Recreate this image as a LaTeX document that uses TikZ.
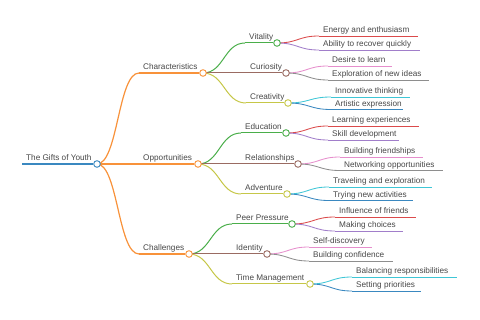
\documentclass[tikz,border=0pt]{standalone}
\usepackage{fontspec}
\setmainfont{Liberation Sans}
\usepackage{xcolor}
\usetikzlibrary{calc}
\usetikzlibrary{backgrounds}

\definecolor{cblue}{HTML}{3A88C0}
\definecolor{corange}{HTML}{F8923A}
\definecolor{cgreen}{HTML}{4AAE4A}
\definecolor{cred}{HTML}{DB4A4B}
\definecolor{cpurple}{HTML}{A17ECA}
\definecolor{cbrown}{HTML}{9A6B62}
\definecolor{cpink}{HTML}{E68ECC}
\definecolor{cgray}{HTML}{8E8E8E}
\definecolor{colive}{HTML}{C6C748}
\definecolor{ccyan}{HTML}{3EC6D6}
\definecolor{ctext}{HTML}{474747}

% curved link from a parent dot to the start of a child line
\newcommand{\mmlink}[3]{%
  \draw[#3] let \p1=(#1.center), \p2=(#2.center) in
  (\p1) .. controls ({(\x1+\x2)/2},\y1) and ({(\x1+\x2)/2},\y2) .. (\p2);}

\begin{document}
\begin{tikzpicture}[x=1pt,y=-1pt,
  txt/.style={anchor=base west, inner sep=0pt, text=ctext,
    font=\fontsize{8.2}{10}\selectfont},
  dot/.style={circle, draw=#1, fill=white, line width=0.9pt,
    minimum size=6.6pt, inner sep=0pt},
  lone/.style={draw=#1, line width=1.6pt},
  ltwo/.style={draw=#1, line width=1.2pt},
  lthree/.style={draw=#1, line width=1pt},
  lfour/.style={draw=#1, line width=0.85pt}]
\useasboundingbox (0,0) rectangle (480,320);
% root
\coordinate (root-l) at (22,164);
\node[dot=cblue] (root) at (97,164) {};
\node[txt] (root-t) at (26,161) {The Gifts of Youth};
% first level
\coordinate (char-l) at (139,73);
\node[dot=corange] (char) at (203,73) {};
\node[txt] (char-t) at (143,70) {Characteristics};
\coordinate (opp-l) at (139,164);
\node[dot=corange] (opp) at (198,164) {};
\node[txt] (opp-t) at (143,161) {Opportunities};
\coordinate (chal-l) at (139,254);
\node[dot=corange] (chal) at (189,254) {};
\node[txt] (chal-t) at (143,251) {Challenges};
% second level
\coordinate (vit-l) at (245,43);
\node[dot=cgreen] (vit) at (277,43) {};
\node[txt] (vit-t) at (249,40) {Vitality};
\coordinate (cur-l) at (246,73);
\node[dot=cbrown] (cur) at (286,73) {};
\node[txt] (cur-t) at (250,70) {Curiosity};
\coordinate (cre-l) at (246,103);
\node[dot=colive] (cre) at (288,103) {};
\node[txt] (cre-t) at (250,100) {Creativity};
\coordinate (edu-l) at (241,133);
\node[dot=cgreen] (edu) at (286,133) {};
\node[txt] (edu-t) at (245,130) {Education};
\coordinate (rel-l) at (241,164);
\node[dot=cbrown] (rel) at (298,164) {};
\node[txt] (rel-t) at (245,161) {Relationships};
\coordinate (adv-l) at (241,194);
\node[dot=colive] (adv) at (287,194) {};
\node[txt] (adv-t) at (245,191) {Adventure};
\coordinate (peer-l) at (232,224);
\node[dot=cgreen] (peer) at (292,224) {};
\node[txt] (peer-t) at (236,221) {Peer Pressure};
\coordinate (iden-l) at (232,254);
\node[dot=cbrown] (iden) at (267,254) {};
\node[txt] (iden-t) at (236,251) {Identity};
\coordinate (time-l) at (232,284);
\node[dot=colive] (time) at (310,284) {};
\node[txt] (time-t) at (236,281) {Time Management};
% leaves
\coordinate (energy-l) at (319,36); \coordinate (energy-r) at (418,36);
\node[txt] (energy) at (323,33) {Energy and enthusiasm};
\coordinate (ability-l) at (319,50); \coordinate (ability-r) at (420,50);
\node[txt] (ability) at (323,47) {Ability to recover quickly};
\coordinate (desire-l) at (328,66); \coordinate (desire-r) at (392,66);
\node[txt] (desire) at (332,63) {Desire to learn};
\coordinate (explo-l) at (328,80); \coordinate (explo-r) at (429,80);
\node[txt] (explo) at (332,77) {Exploration of new ideas};
\coordinate (innov-l) at (331,97); \coordinate (innov-r) at (410,97);
\node[txt] (innov) at (335,94) {Innovative thinking};
\coordinate (artist-l) at (331,109.5); \coordinate (artist-r) at (403,109.5);
\node[txt] (artist) at (335,106.5) {Artistic expression};
\coordinate (learn-l) at (328,126); \coordinate (learn-r) at (419,126);
\node[txt] (learn) at (332,123) {Learning experiences};
\coordinate (skill-l) at (328,140); \coordinate (skill-r) at (399,140);
\node[txt] (skill) at (332,137) {Skill development};
\coordinate (friend-l) at (340,157); \coordinate (friend-r) at (423,157);
\node[txt] (friend) at (344,154) {Building friendships};
\coordinate (network-l) at (340,170.5); \coordinate (network-r) at (443,170.5);
\node[txt] (network) at (344,167.5) {Networking opportunities};
\coordinate (travel-l) at (329,187); \coordinate (travel-r) at (432,187);
\node[txt] (travel) at (333,184) {Traveling and exploration};
\coordinate (trying-l) at (329,200.5); \coordinate (trying-r) at (413,200.5);
\node[txt] (trying) at (333,197.5) {Trying new activities};
\coordinate (influ-l) at (335,217); \coordinate (influ-r) at (416,217);
\node[txt] (influ) at (339,214) {Influence of friends};
\coordinate (choice-l) at (335,231); \coordinate (choice-r) at (403,231);
\node[txt] (choice) at (339,228) {Making choices};
\coordinate (selfd-l) at (309,247); \coordinate (selfd-r) at (372,247);
\node[txt] (selfd) at (313,244) {Self-discovery};
\coordinate (confid-l) at (309,261); \coordinate (confid-r) at (393,261);
\node[txt] (confid) at (313,258) {Building confidence};
\coordinate (balance-l) at (352,277); \coordinate (balance-r) at (457,277);
\node[txt] (balance) at (356,274) {Balancing responsibilities};
\coordinate (prio-l) at (352,291); \coordinate (prio-r) at (421,291);
\node[txt] (prio) at (356,288) {Setting priorities};
%
\begin{pgfonlayer}{background}
\draw[lone=cblue] (root-l) -- (root);
\mmlink{root}{char-l}{ltwo=corange} \draw[ltwo=corange] (char-l) -- (char);
\mmlink{root}{opp-l}{ltwo=corange} \draw[ltwo=corange] (opp-l) -- (opp);
\mmlink{root}{chal-l}{ltwo=corange} \draw[ltwo=corange] (chal-l) -- (chal);
%
\mmlink{char}{vit-l}{lthree=cgreen} \draw[lthree=cgreen] (vit-l) -- (vit);
\mmlink{char}{cur-l}{lthree=cbrown} \draw[lthree=cbrown] (cur-l) -- (cur);
\mmlink{char}{cre-l}{lthree=colive} \draw[lthree=colive] (cre-l) -- (cre);
\mmlink{opp}{edu-l}{lthree=cgreen} \draw[lthree=cgreen] (edu-l) -- (edu);
\mmlink{opp}{rel-l}{lthree=cbrown} \draw[lthree=cbrown] (rel-l) -- (rel);
\mmlink{opp}{adv-l}{lthree=colive} \draw[lthree=colive] (adv-l) -- (adv);
\mmlink{chal}{peer-l}{lthree=cgreen} \draw[lthree=cgreen] (peer-l) -- (peer);
\mmlink{chal}{iden-l}{lthree=cbrown} \draw[lthree=cbrown] (iden-l) -- (iden);
\mmlink{chal}{time-l}{lthree=colive} \draw[lthree=colive] (time-l) -- (time);
%
\mmlink{vit}{energy-l}{lfour=cred} \draw[lfour=cred] (energy-l) -- (energy-r);
\mmlink{vit}{ability-l}{lfour=cpurple} \draw[lfour=cpurple] (ability-l) -- (ability-r);
\mmlink{cur}{desire-l}{lfour=cpink} \draw[lfour=cpink] (desire-l) -- (desire-r);
\mmlink{cur}{explo-l}{lfour=cgray} \draw[lfour=cgray] (explo-l) -- (explo-r);
\mmlink{cre}{innov-l}{lfour=ccyan} \draw[lfour=ccyan] (innov-l) -- (innov-r);
\mmlink{cre}{artist-l}{lfour=cblue} \draw[lfour=cblue] (artist-l) -- (artist-r);
\mmlink{edu}{learn-l}{lfour=cred} \draw[lfour=cred] (learn-l) -- (learn-r);
\mmlink{edu}{skill-l}{lfour=cpurple} \draw[lfour=cpurple] (skill-l) -- (skill-r);
\mmlink{rel}{friend-l}{lfour=cpink} \draw[lfour=cpink] (friend-l) -- (friend-r);
\mmlink{rel}{network-l}{lfour=cgray} \draw[lfour=cgray] (network-l) -- (network-r);
\mmlink{adv}{travel-l}{lfour=ccyan} \draw[lfour=ccyan] (travel-l) -- (travel-r);
\mmlink{adv}{trying-l}{lfour=cblue} \draw[lfour=cblue] (trying-l) -- (trying-r);
\mmlink{peer}{influ-l}{lfour=cred} \draw[lfour=cred] (influ-l) -- (influ-r);
\mmlink{peer}{choice-l}{lfour=cpurple} \draw[lfour=cpurple] (choice-l) -- (choice-r);
\mmlink{iden}{selfd-l}{lfour=cpink} \draw[lfour=cpink] (selfd-l) -- (selfd-r);
\mmlink{iden}{confid-l}{lfour=cgray} \draw[lfour=cgray] (confid-l) -- (confid-r);
\mmlink{time}{balance-l}{lfour=ccyan} \draw[lfour=ccyan] (balance-l) -- (balance-r);
\mmlink{time}{prio-l}{lfour=cblue} \draw[lfour=cblue] (prio-l) -- (prio-r);
\end{pgfonlayer}
\end{tikzpicture}
\end{document}
